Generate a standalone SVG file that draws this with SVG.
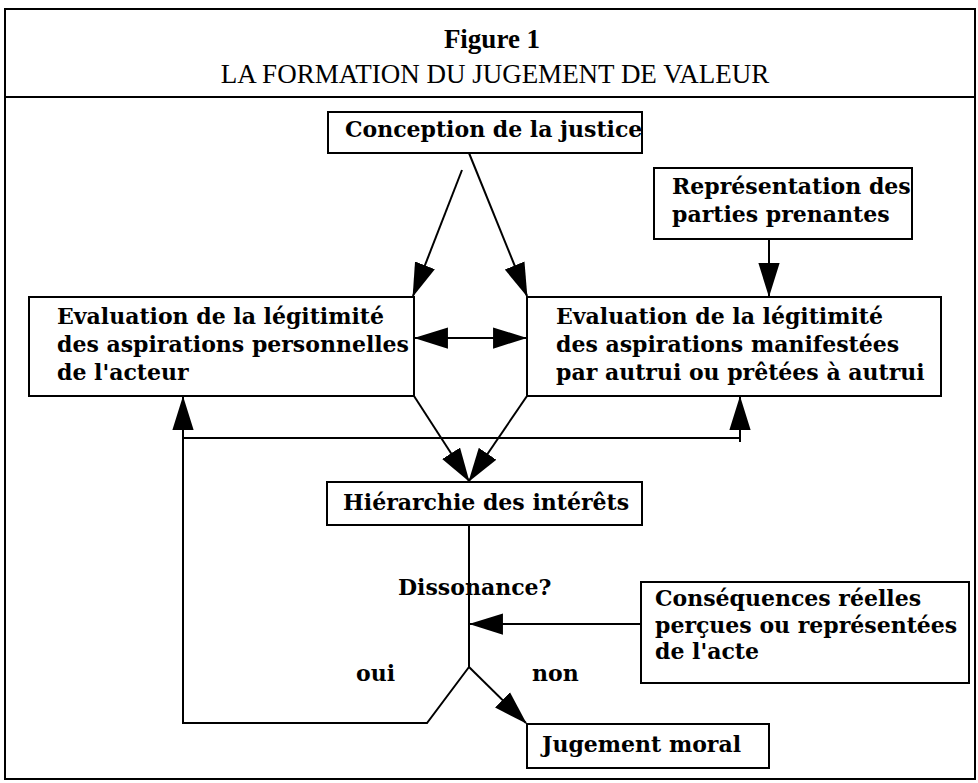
<svg xmlns="http://www.w3.org/2000/svg" width="978" height="783" viewBox="0 0 978 783">
<style>
.box{fill:#fff;stroke:#000;stroke-width:2}
.t{font-family:"DejaVu Serif","Liberation Serif",serif;font-weight:bold;font-size:22px;fill:#000}
.ln{fill:none;stroke:#000;stroke-width:2}
.hd{font-family:"Liberation Serif","Times New Roman",serif;fill:#000}
</style>
<defs>
<marker id="ah" markerUnits="userSpaceOnUse" markerWidth="34" markerHeight="22" viewBox="0 0 32 20" refX="31" refY="10" orient="auto-start-reverse">
<path d="M0,0 L32,10 L0,20 z" fill="#000"/>
</marker>
</defs>
<rect x="0" y="0" width="978" height="783" fill="#fff"/>
<g id="frame">
<rect x="5" y="9" width="970" height="770" fill="none" stroke="#000" stroke-width="2"/>
<line x1="5" y1="97" x2="975" y2="97" stroke="#000" stroke-width="2"/>
<text class="hd" x="492" y="48" font-size="27" font-weight="bold" text-anchor="middle">Figure 1</text>
<text class="hd" x="495" y="83" font-size="27" text-anchor="middle">LA FORMATION DU JUGEMENT DE VALEUR</text>
</g>
<g id="connectors">
<line class="ln" x1="462" y1="170" x2="413" y2="296" marker-end="url(#ah)"/>
<line class="ln" x1="469" y1="153" x2="527" y2="296" marker-end="url(#ah)"/>
<line class="ln" x1="769" y1="239" x2="769" y2="296" marker-end="url(#ah)"/>
<line class="ln" x1="415" y1="338" x2="526" y2="338" marker-start="url(#ah)" marker-end="url(#ah)"/>
<line class="ln" x1="414" y1="396" x2="469" y2="481" marker-end="url(#ah)"/>
<line class="ln" x1="527" y1="396" x2="469" y2="481" marker-end="url(#ah)"/>
<polyline class="ln" points="183,438 740,438"/>
<line class="ln" x1="740" y1="442" x2="740" y2="397" marker-end="url(#ah)"/>
<line class="ln" x1="469" y1="525" x2="469" y2="667"/>
<line class="ln" x1="641" y1="624" x2="470" y2="624" marker-end="url(#ah)"/>
<polyline class="ln" points="469,667 427,723 183,723 183,397" marker-end="url(#ah)"/>
<line class="ln" x1="469" y1="667" x2="526" y2="723" marker-end="url(#ah)"/>
</g>
<g id="conception">
<rect class="box" x="328" y="112" width="314" height="41"/>
<text class="t" x="345" y="137">Conception de la justice</text>
</g>
<g id="representation">
<rect class="box" x="654" y="168" width="258" height="71"/>
<text class="t" x="672" y="194">Représentation des</text>
<text class="t" x="672" y="222">parties prenantes</text>
</g>
<g id="eval-acteur">
<rect class="box" x="29" y="297" width="385" height="99"/>
<text class="t" x="57" y="324">Evaluation de la légitimité</text>
<text class="t" x="57" y="352">des aspirations personnelles</text>
<text class="t" x="57" y="380">de l'acteur</text>
</g>
<g id="eval-autrui">
<rect class="box" x="527" y="297" width="414" height="99"/>
<text class="t" x="556" y="324">Evaluation de la légitimité</text>
<text class="t" x="556" y="352">des aspirations manifestées</text>
<text class="t" x="556" y="380">par autrui ou prêtées à autrui</text>
</g>
<g id="hierarchie">
<rect class="box" x="327" y="482" width="315" height="43"/>
<text class="t" x="343" y="510">Hiérarchie des intérêts</text>
</g>
<g id="dissonance">
<text class="t" x="398" y="595">Dissonance?</text>
<text class="t" x="356" y="681">oui</text>
<text class="t" x="532" y="681">non</text>
</g>
<g id="consequences">
<rect class="box" x="641" y="582" width="328" height="101"/>
<text class="t" x="655" y="606">Conséquences réelles</text>
<text class="t" x="655" y="633">perçues ou représentées</text>
<text class="t" x="655" y="659">de l'acte</text>
</g>
<g id="jugement">
<rect class="box" x="527" y="724" width="242" height="44"/>
<text class="t" x="542" y="752">Jugement moral</text>
</g>
</svg>
